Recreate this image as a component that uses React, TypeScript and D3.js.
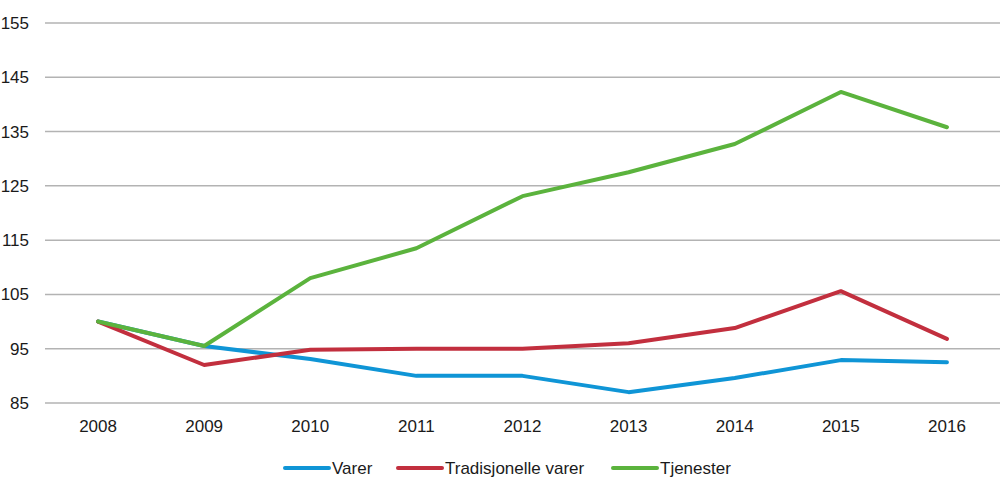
import * as d3 from "d3";
import { useEffect, useRef } from "react";

const years = ["2008", "2009", "2010", "2011", "2012", "2013", "2014", "2015", "2016"];
const varer = [100, 95.5, 93.1, 90.0, 90.0, 87.0, 89.6, 92.9, 92.5];
const tradisjonelle = [100, 92.0, 94.8, 95.0, 95.0, 96.0, 98.8, 105.6, 96.8];
const tjenester = [100, 95.5, 108.0, 113.5, 123.1, 127.5, 132.7, 142.3, 135.8];
const yTicks = [85, 95, 105, 115, 125, 135, 145, 155];

const series = [
  { name: "Varer", color: "#0f95d6", values: varer },
  { name: "Tradisjonelle varer", color: "#c22f3e", values: tradisjonelle },
  { name: "Tjenester", color: "#5bb33d", values: tjenester },
];

function draw(node: SVGSVGElement) {
  const width = 1000;
  const height = 495;
  const marginLeft = 45;
  const marginRight = 0;
  const marginTop = 23;
  const plotBottom = 403;

  const svg = d3.select(node);
  svg.selectAll("*").remove();
  svg.attr("width", width).attr("height", height)
    .attr("style", "font: 17px 'Liberation Sans', Arial, sans-serif;");

  const x = d3.scalePoint<string>()
    .domain(years)
    .range([marginLeft, width - marginRight])
    .padding(0.5);

  const y = d3.scaleLinear().domain([85, 155]).range([plotBottom, marginTop]);

  // gridlines
  svg.append("g")
    .selectAll("line")
    .data(yTicks)
    .join("line")
      .attr("x1", marginLeft)
      .attr("x2", width - marginRight)
      .attr("y1", d => y(d))
      .attr("y2", d => y(d))
      .attr("stroke", "#b3b3b3")
      .attr("stroke-width", 1.5);

  // y labels
  svg.append("g")
    .attr("text-anchor", "end")
    .attr("fill", "#1a1a1a")
    .selectAll("text")
    .data(yTicks)
    .join("text")
      .attr("x", 29)
      .attr("y", d => y(d))
      .attr("dy", "0.35em")
      .text(d => d);

  // x labels
  svg.append("g")
    .attr("text-anchor", "middle")
    .attr("fill", "#1a1a1a")
    .selectAll("text")
    .data(years)
    .join("text")
      .attr("x", d => x(d) ?? 0)
      .attr("y", 426)
      .attr("dy", "0.35em")
      .text(d => d);

  const line = d3.line<number>()
    .x((_, i) => x(years[i]) ?? 0)
    .y(d => y(d));

  svg.append("g")
    .selectAll("path")
    .data(series)
    .join("path")
      .attr("fill", "none")
      .attr("stroke", d => d.color)
      .attr("stroke-width", 4)
      .attr("stroke-linejoin", "round")
      .attr("stroke-linecap", "round")
      .attr("d", d => line(d.values));

  // legend
  const legendX = [285, 398, 613];
  const lg = svg.append("g")
    .selectAll("g")
    .data(series)
    .join("g")
      .attr("transform", (_, i) => `translate(${legendX[i]},468)`);
  lg.append("line")
    .attr("x1", 0).attr("x2", 44)
    .attr("stroke", d => d.color)
    .attr("stroke-width", 4)
    .attr("stroke-linecap", "round");
  lg.append("text")
    .attr("x", 47)
    .attr("dy", "0.35em")
    .attr("fill", "#1a1a1a")
    .text(d => d.name);
}

export default function App() {
  const ref = useRef<SVGSVGElement | null>(null);
  useEffect(() => {
    if (ref.current) draw(ref.current);
  }, []);
  return (
    <div style={{ position: "absolute", left: 0, top: 0 }}>
      <svg ref={ref} />
    </div>
  );
}
